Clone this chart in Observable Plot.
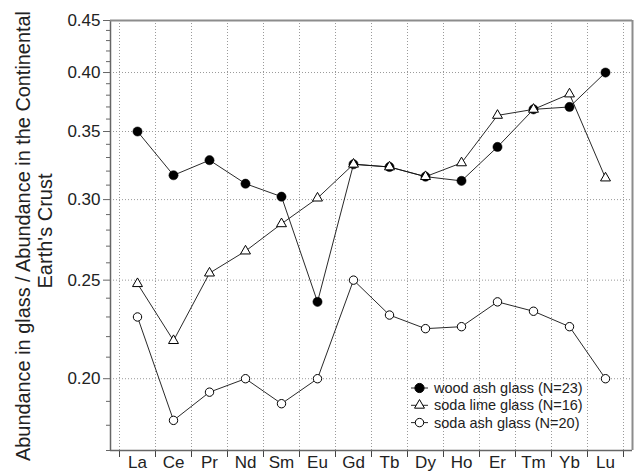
<!DOCTYPE html>
<html>
<head>
<meta charset="utf-8">
<script src="https://cdn.jsdelivr.net/npm/d3@7"></script>
<script src="https://cdn.jsdelivr.net/npm/@observablehq/plot@0.6"></script>
<style>
  html, body { margin: 0; padding: 0; background: white; }
  #chart { width: 634px; height: 471px; }
</style>
</head>
<body>
<div id="chart"></div>
<script>
const elements = ["La","Ce","Pr","Nd","Sm","Eu","Gd","Tb","Dy","Ho","Er","Tm","Yb","Lu"];
const woodAsh  = [0.350,0.317,0.328,0.311,0.302,0.238,0.325,0.323,0.316,0.313,0.338,0.368,0.370,0.400];
const sodaLime = [0.248,0.218,0.254,0.267,0.284,0.301,0.325,0.323,0.316,0.326,0.363,0.368,0.381,0.315];
const sodaAsh  = [0.230,0.182,0.194,0.200,0.189,0.200,0.250,0.231,0.224,0.225,0.238,0.233,0.225,0.200];
const seriesNames = ["wood ash glass (N=23)","soda lime glass (N=16)","soda ash glass (N=20)"];
const yMajor = [0.20,0.25,0.30,0.35,0.40,0.45];
const yMinor = [0.17,0.18,0.19,0.21,0.22,0.23,0.24,0.26,0.27,0.28,0.29,0.31,0.32,0.33,0.34,0.36,0.37,0.38,0.39,0.41,0.42,0.43,0.44];
const yTitle = ["Abundance in glass / Abundance in the Continental","Earth's Crust"];

const idx = elements.map((_, i) => i);
const boundaries = elements.map((_, i) => i - 0.5).concat([elements.length - 0.5]);
const toRows = (vals, s) => vals.map((v, i) => ({i, v, s}));
const wood = toRows(woodAsh, seriesNames[0]);
const lime = toRows(sodaLime, seriesNames[1]);
const ash  = toRows(sodaAsh, seriesNames[2]);
const all = wood.concat(lime, ash);

const FONT = "'Liberation Sans', Arial, Helvetica, sans-serif";
const AX = "#666";

const chart = Plot.plot({
  width: 634, height: 471,
  marginLeft: 110, marginRight: 2, marginTop: 20, marginBottom: 21,
  x: {type: "linear", domain: [-0.75, 13.75], label: null},
  y: {type: "log", domain: [0.17, 0.45], label: null},
  style: {fontFamily: FONT, fontSize: "17px", color: "#222", background: "white"},
  marks: [
    Plot.ruleX(boundaries, {stroke: "#9a9a9a", strokeWidth: 1, strokeDasharray: "1,2"}),
    Plot.ruleY(yMajor.slice(0, -1), {stroke: "#9a9a9a", strokeWidth: 1, strokeDasharray: "1,2"}),
    Plot.axisY(yMinor, {tickSize: 4, tickFormat: () => "", stroke: AX, label: null}),
    Plot.axisY(yMajor, {tickSize: 7, tickPadding: 3, tickFormat: d => d.toFixed(2), stroke: AX, fontSize: 17, label: null}),
    Plot.axisX(boundaries, {tickSize: 7, tickFormat: () => "", stroke: "#444", label: null}),
    Plot.axisX(idx, {tickSize: 0, tickPadding: 5, tickFormat: i => elements[i], fontSize: 17, label: null}),
    Plot.ruleX([-0.75], {stroke: AX, strokeWidth: 1.5}),
    Plot.ruleY([0.17], {stroke: AX, strokeWidth: 1.5}),
    Plot.ruleY([0.45], {stroke: "#8c8c8c", strokeWidth: 2}),
    Plot.ruleX([13.75], {stroke: "#8c8c8c", strokeWidth: 2}),
    Plot.line(all, {x: "i", y: "v", z: "s", stroke: "#111", strokeWidth: 0.9}),
    Plot.dot(wood, {x: "i", y: "v", r: 4.6, fill: "black", stroke: "black", strokeWidth: 0.5}),
    Plot.dot(ash, {x: "i", y: "v", r: 4.2, fill: "white", stroke: "black", strokeWidth: 1}),
    Plot.dot(lime, {x: "i", y: "v", r: 3.7, symbol: "triangle", fill: "white", stroke: "black", strokeWidth: 1})
  ]
});

document.getElementById("chart").appendChild(chart);

const svg = d3.select(chart);
// y-axis title (two lines)
const t = svg.append("g").attr("font-family", FONT).attr("font-size", 20).attr("fill", "#222").attr("text-anchor", "middle");
t.append("text").attr("transform", "translate(30,236) rotate(-90)")
  .attr("textLength", 450).attr("lengthAdjust", "spacingAndGlyphs").text(yTitle[0]);
t.append("text").attr("transform", "translate(52,231) rotate(-90)").text(yTitle[1]);

// legend
const legendSpec = [
  {name: seriesNames[0], sym: d3.symbolCircle, r: 4.6, fill: "black"},
  {name: seriesNames[1], sym: d3.symbolTriangle, r: 3.7, fill: "white"},
  {name: seriesNames[2], sym: d3.symbolCircle, r: 4.2, fill: "white"}
];
const lg = svg.append("g").attr("font-family", FONT).attr("font-size", 14.5).attr("fill", "#222").attr("text-anchor", "start");
legendSpec.forEach((d, k) => {
  const yy = 388 + k * 17.3;
  const g = lg.append("g").attr("transform", `translate(0,${yy})`);
  g.append("line").attr("x1", 411).attr("x2", 428).attr("stroke", "#111").attr("stroke-width", 0.9);
  g.append("path").attr("transform", "translate(419.5,0)")
    .attr("d", d3.symbol(d.sym, Math.PI * d.r * d.r)())
    .attr("fill", d.fill).attr("stroke", "black").attr("stroke-width", 1);
  g.append("text").attr("x", 434).attr("dy", "0.35em").text(d.name);
});
</script>
</body>
</html>
